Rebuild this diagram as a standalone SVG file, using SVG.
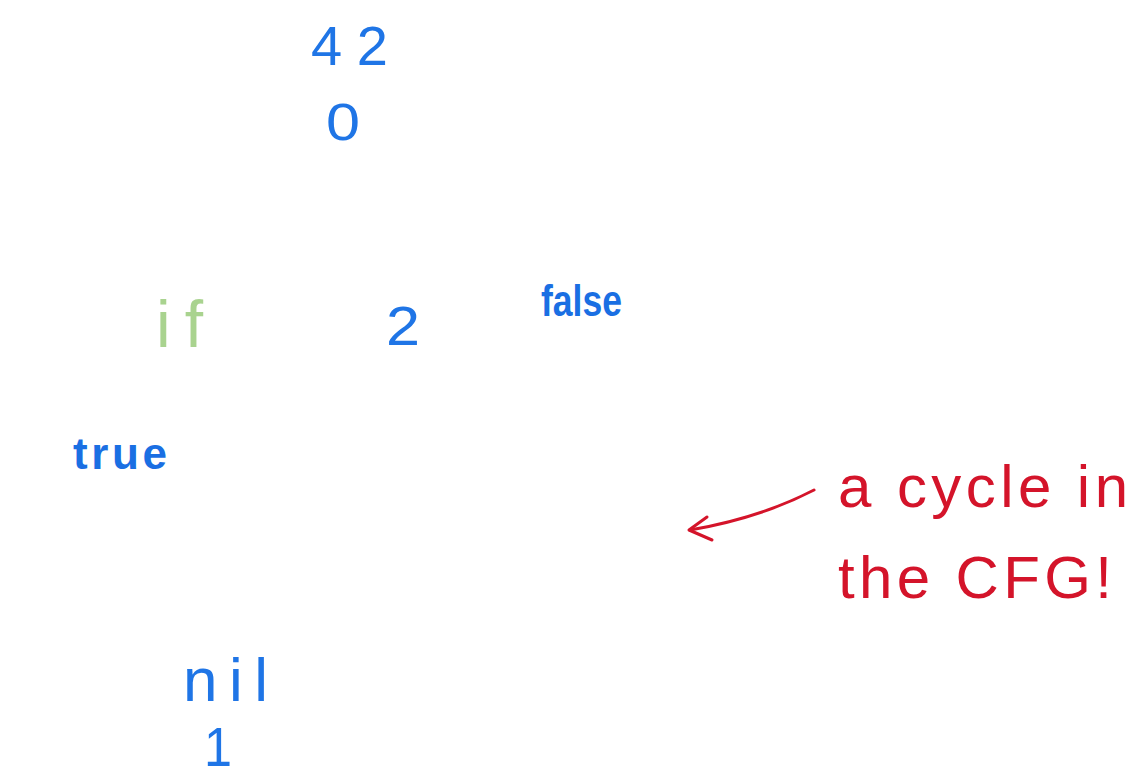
<svg xmlns="http://www.w3.org/2000/svg" width="1128" height="780" viewBox="0 0 1128 780">
  <style>
    .blue { fill: #1f75e6; font-family: "Liberation Sans", "DejaVu Sans", sans-serif; }
    .bold { font-weight: bold; fill: #1a6fe3; }
    .green { fill: #a9d38f; font-family: "Liberation Sans", "DejaVu Sans", sans-serif; }
    .red { fill: #d4142a; font-family: "Liberation Sans", "DejaVu Sans", sans-serif; }
    .conn { fill: none; stroke: #d4142a; stroke-width: 3; stroke-linecap: round; stroke-linejoin: round; }
  </style>
  <rect width="1128" height="780" fill="#ffffff"/>
  <g id="node-42"><text class="blue" x="311" y="65" font-size="56" textLength="77" lengthAdjust="spacing">42</text></g>
  <g id="node-0"><text class="blue" x="326" y="140" font-size="52" textLength="34" lengthAdjust="spacingAndGlyphs">0</text></g>
  <g id="node-if"><text class="green" x="156" y="347" font-size="66" textLength="47" lengthAdjust="spacing">if</text></g>
  <g id="node-2"><text class="blue" x="386" y="345" font-size="55" textLength="34" lengthAdjust="spacingAndGlyphs">2</text></g>
  <g id="node-false"><text class="blue bold" x="541" y="316" font-size="44" textLength="81" lengthAdjust="spacingAndGlyphs">false</text></g>
  <g id="node-true"><text class="blue bold" x="73" y="469" font-size="44" textLength="94" lengthAdjust="spacing">true</text></g>
  <g id="node-nil"><text class="blue" x="183" y="701" font-size="62" textLength="85" lengthAdjust="spacing">nil</text></g>
  <g id="node-1"><text class="blue" x="204" y="766" font-size="56" textLength="28" lengthAdjust="spacingAndGlyphs">1</text></g>
  <g id="note">
    <text class="red" x="838" y="507" font-size="60" textLength="290" lengthAdjust="spacing">a cycle in</text>
    <text class="red" x="838" y="598" font-size="60" textLength="274" lengthAdjust="spacing">the CFG!</text>
  </g>
  <g id="connectors">
    <path class="conn" d="M814,490 Q760,518 690,530"/>
    <path class="conn" d="M707,517 L689,530 L712,540"/>
  </g>
</svg>
